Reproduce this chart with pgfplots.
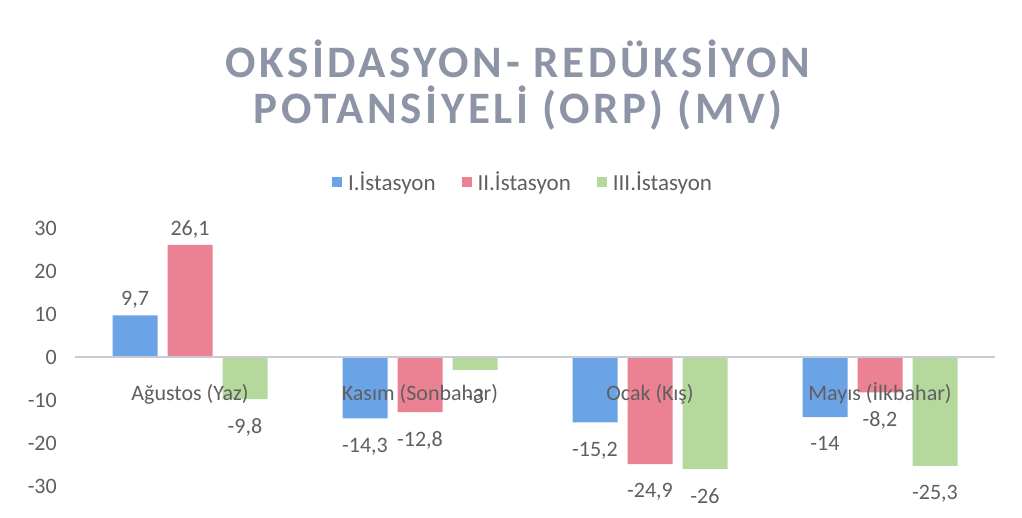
\documentclass[border=0pt]{standalone}
\usepackage{pgfplots}
\pgfplotsset{compat=1.18}
\usepackage{fontspec}
\setmainfont{Carlito}
\newfontfamily\titlefont[LetterSpace=8]{Carlito}
\definecolor{cblue}{HTML}{6AA3E6}
\definecolor{cred}{HTML}{EA8294}
\definecolor{cgreen}{HTML}{B5D89C}
\definecolor{ctitle}{HTML}{8C94A6}
\definecolor{clabel}{HTML}{5F5F5F}
\definecolor{czero}{HTML}{C8CBD6}
\begin{document}
\begin{tikzpicture}
\useasboundingbox (0,0) rectangle (1022bp,518bp);
\node[font=\titlefont\bfseries\fontsize{45bp}{46bp}\selectfont, text=ctitle, align=center] at (518bp,433bp) {OKSİDASYON- REDÜKSİYON\\POTANSİYELİ (ORP) (MV)};
\begin{axis}[
  at={(75bp,32bp)}, anchor=south west,
  scale only axis, width=920bp, height=258bp,
  xmin=-0.5, xmax=3.5, ymin=-30, ymax=30,
  enlargelimits=false, clip=false, axis on top,
  ybar=10bp, bar width=45bp,
  xtick={0,1,2,3},
  xticklabels={Ağustos (Yaz),Kasım (Sonbahar),Ocak (Kış),Mayıs (İlkbahar)},
  ytick={-30,-20,-10,0,10,20,30},
  axis line style={draw=none}, tick style={draw=none},
  extra y ticks={0}, extra y tick labels={},
  extra y tick style={grid=major, major grid style={draw=czero, line width=1.5bp}},
  /pgf/number format/.cd, fixed, precision=1, use comma, assume math mode=true, 1000 sep={},
  /pgfplots/.cd,
  ticklabel style={font=\fontsize{22bp}{26bp}\selectfont, text=clabel},
  yticklabel style={anchor=east, inner sep=0pt, xshift=-18bp},
  xticklabel style={anchor=base, inner sep=0pt, yshift=90bp},
  nodes near coords,
  visualization depends on={y \as \rawy},
  every node near coord/.append style={font=\fontsize{22bp}{26bp}\selectfont, text=clabel, yshift={(\rawy<0)?-16:3}},
  legend style={at={(0.487,1.178)}, anchor=center, draw=none, fill=none, legend columns=-1,
    font=\fontsize{23bp}{27bp}\selectfont, text=clabel,
    /tikz/every odd column/.append style={column sep=4bp},
    /tikz/every even column/.append style={column sep=24bp}},
  legend image code/.code={\fill[#1] (0bp,-5bp) rectangle (10bp,5bp);},
]
\addplot[fill=cblue, draw=none] coordinates {(0,9.7) (1,-14.3) (2,-15.2) (3,-14)};
\addplot[fill=cred, draw=none] coordinates {(0,26.1) (1,-12.8) (2,-24.9) (3,-8.2)};
\addplot[fill=cgreen, draw=none] coordinates {(0,-9.8) (1,-3) (2,-26) (3,-25.3)};
\legend{I.İstasyon, II.İstasyon, III.İstasyon}
\end{axis}
\end{tikzpicture}
\end{document}
